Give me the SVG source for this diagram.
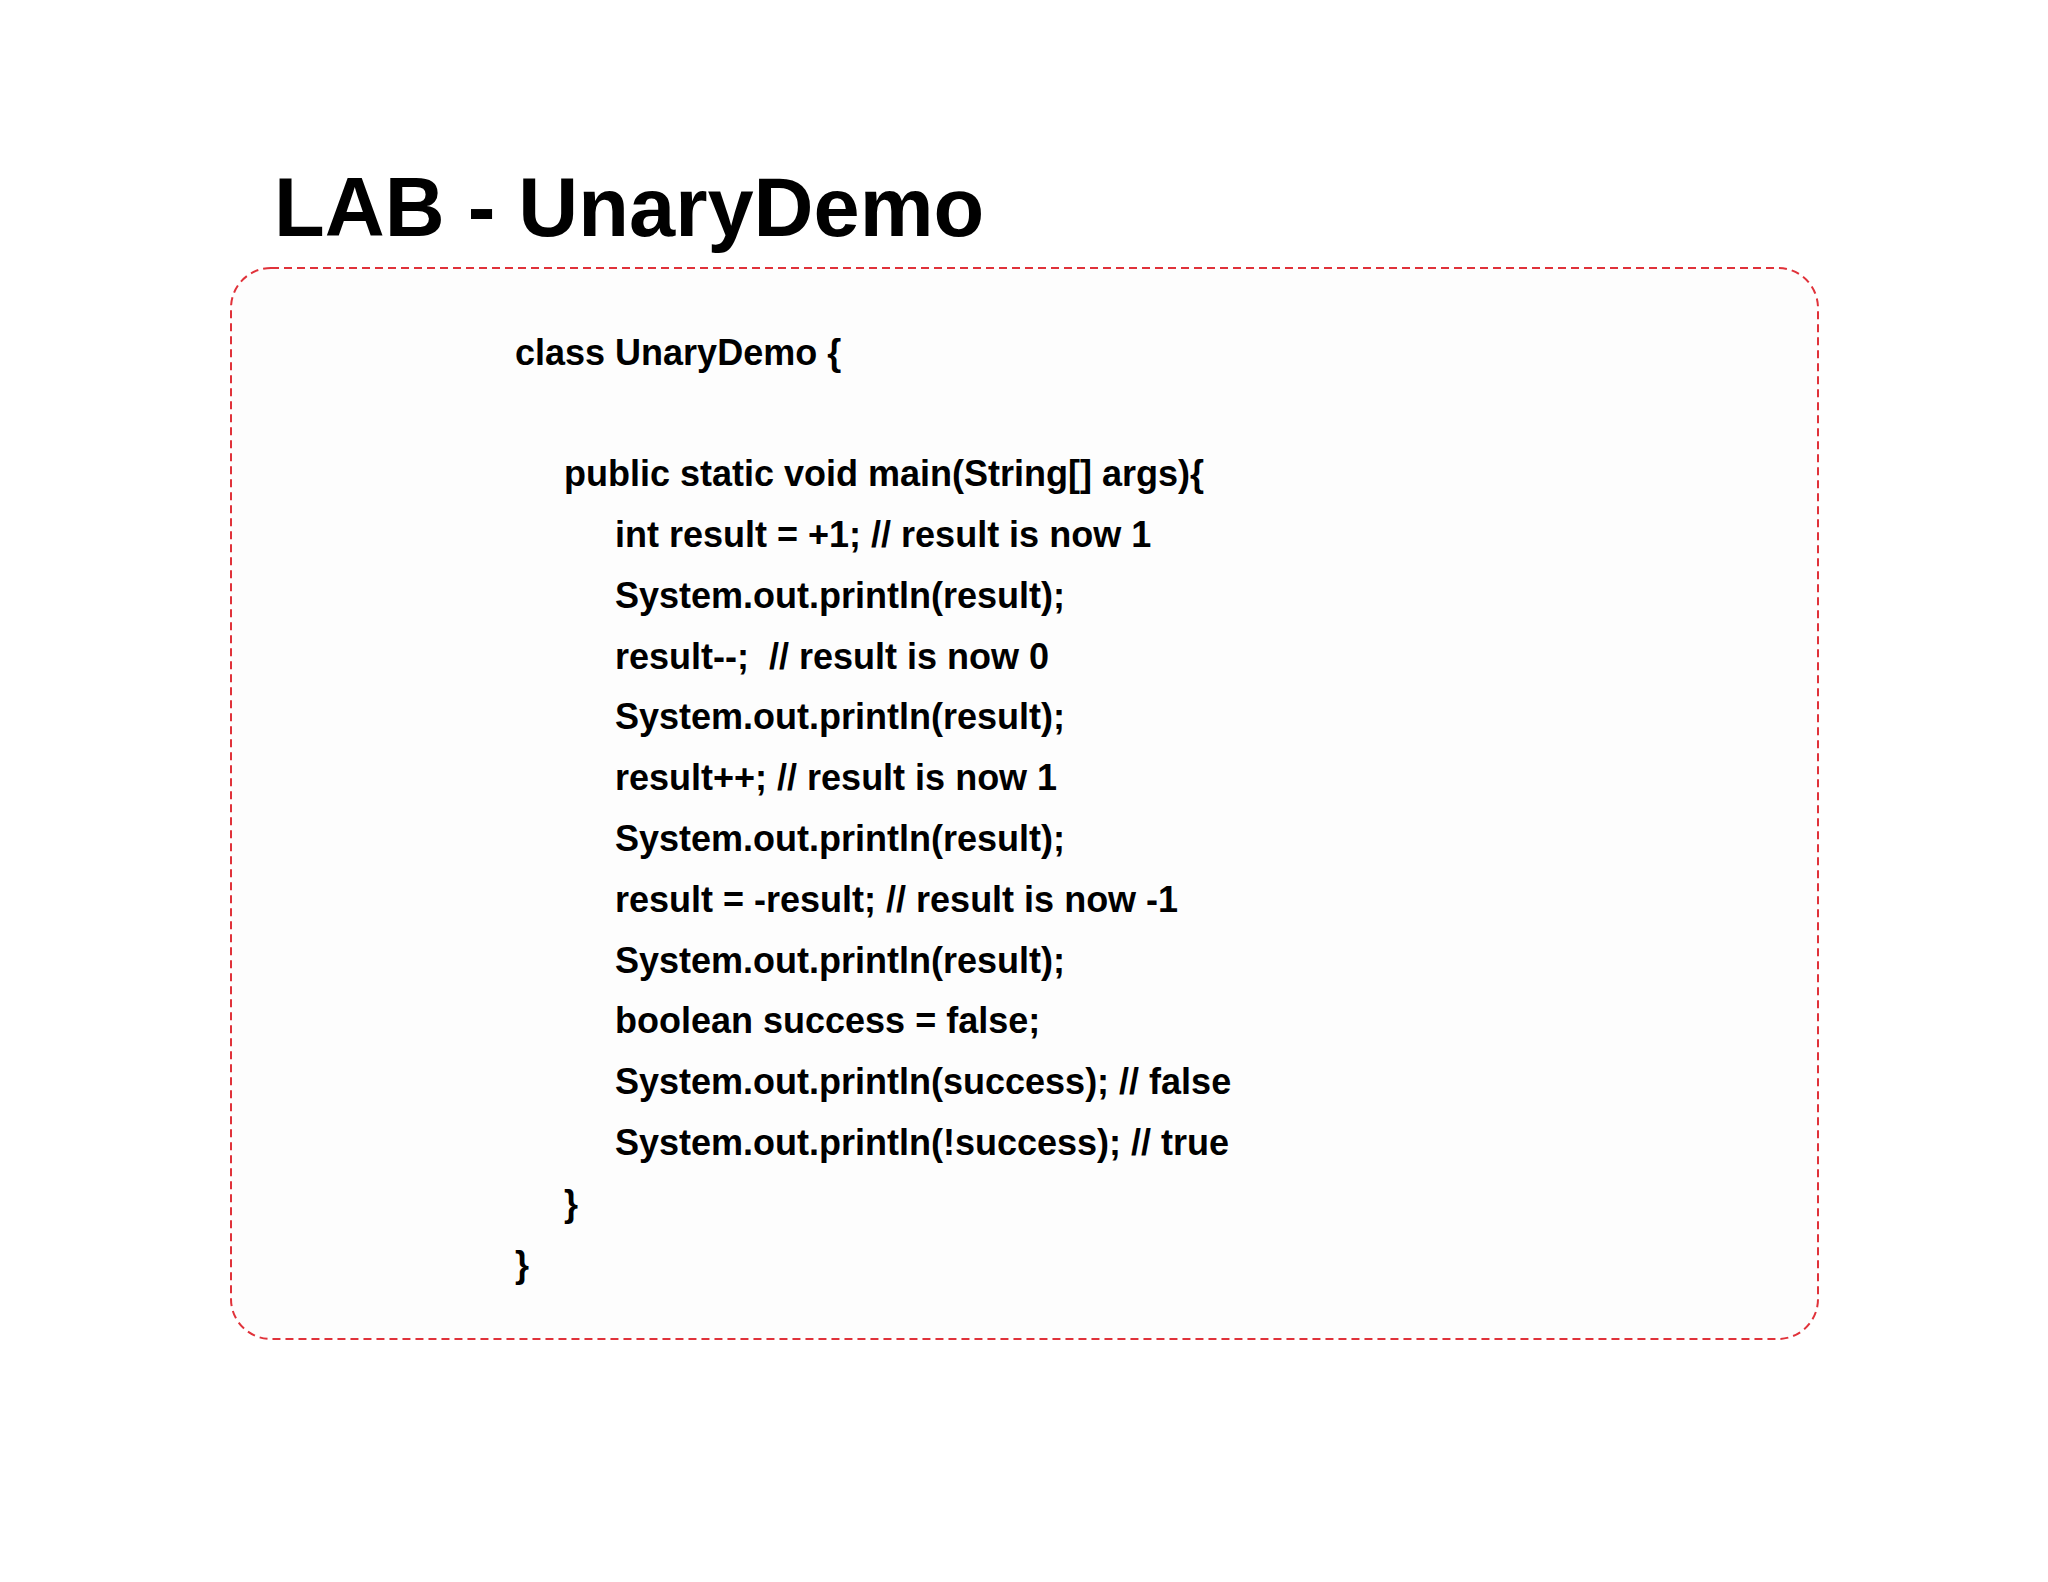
<svg xmlns="http://www.w3.org/2000/svg" width="2048" height="1582" viewBox="0 0 2048 1582">
<style>
.t{font-family:"Liberation Sans",Arial,sans-serif;font-weight:bold;fill:#000}
.c{font-size:36px}
</style>
<rect width="2048" height="1582" fill="#fff"/>
<text class="t" x="274" y="236" font-size="83">LAB - UnaryDemo</text>
<g id="box"><rect x="231" y="268" width="1587" height="1071" rx="40" fill="#fdfdfd" stroke="#e0323a" stroke-width="2" stroke-dasharray="8,5"/></g>
<g id="code" class="t c">
<text x="515" y="365">class UnaryDemo {</text>
<text x="564" y="486">public static void main(String[] args){</text>
<text x="615" y="547">int result = +1; // result is now 1</text>
<text x="615" y="608">System.out.println(result);</text>
<text x="615" y="669" xml:space="preserve">result--;  // result is now 0</text>
<text x="615" y="729">System.out.println(result);</text>
<text x="615" y="790">result++; // result is now 1</text>
<text x="615" y="851">System.out.println(result);</text>
<text x="615" y="912">result = -result; // result is now -1</text>
<text x="615" y="973">System.out.println(result);</text>
<text x="615" y="1033">boolean success = false;</text>
<text x="615" y="1094">System.out.println(success); // false</text>
<text x="615" y="1155">System.out.println(!success); // true</text>
<text x="564" y="1216">}</text>
<text x="515" y="1277">}</text>
</g>
</svg>
